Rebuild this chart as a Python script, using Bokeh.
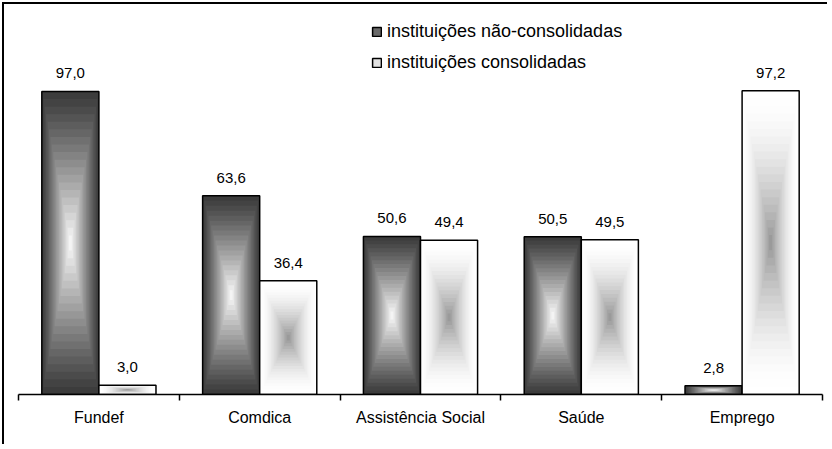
from bokeh.plotting import figure
from bokeh.models import (ColumnDataSource, Range1d, LinearAxis, FixedTicker,
                          Legend, LegendItem)
from bokeh.core.properties import value
from bokeh.embed import file_html
from bokeh.resources import INLINE

# ---- data ----
categories = ["Fundef", "Comdica", "Assistência Social", "Saúde", "Emprego"]
nao_consolidadas = [97.0, 63.6, 50.6, 50.5, 2.8]
consolidadas = [3.0, 36.4, 49.4, 49.5, 97.2]
series_names = ["instituições não-consolidadas", "instituições consolidadas"]

FONT = "Liberation Sans"
BAR_W = 0.355
N_LAYERS = 20

def fmt(v):
    return f"{v:.1f}".replace(".", ",")

def gray(g):
    g = int(max(0, min(255, round(g))))
    return "#%02x%02x%02x" % (g, g, g)

def layers(vals, side, color_fn):
    L, R, B, T, C = [], [], [], [], []
    for k in range(N_LAYERS):
        t = k / N_LAYERS
        for i, v in enumerate(vals):
            c = i + 0.5
            left = c - BAR_W if side < 0 else c
            right = c if side < 0 else c + BAR_W
            hw = (right - left) / 2.0
            hh = v / 2.0
            L.append(left + t * hw)
            R.append(right - t * hw)
            B.append(0 + t * hh)
            T.append(v - t * hh)
            C.append(color_fn(t))
    return dict(left=L, right=R, bottom=B, top=T, color=C)

dark_fn = lambda t: gray(60 + 195 * (t ** 1.1))
light_fn = lambda t: gray(255 - 110 * (t ** 1.7))

p = figure(width=825, height=442, output_backend="svg", toolbar_location=None,
           x_range=Range1d(0, 5), y_range=Range1d(0, 122.6),
           x_axis_type=None, y_axis_location=None,
           min_border_left=14, min_border_right=7, min_border_top=7,
           min_border_bottom=52,
           styles={"border-left": "2px solid black", "border-top": "2px solid black",
                   "margin-left": "2px", "margin-top": "2px"})
p.outline_line_color = None
p.xgrid.visible = False
p.ygrid.visible = False
p.background_fill_color = "white"
p.border_fill_color = "white"

legend_renderers = []
legend_colors = ["#6a6a6a", "#e2e2e2"]
for si, (side, vals, fn) in enumerate([(-1, nao_consolidadas, dark_fn),
                                       (1, consolidadas, light_fn)]):
    src = ColumnDataSource(layers(vals, side, fn))
    p.quad(left="left", right="right", bottom="bottom", top="top",
           fill_color="color", line_color=None, source=src)
    xs_l = [i + 0.5 - BAR_W if side < 0 else i + 0.5 for i in range(len(vals))]
    xs_r = [i + 0.5 if side < 0 else i + 0.5 + BAR_W for i in range(len(vals))]
    osrc = ColumnDataSource(dict(left=xs_l, right=xs_r, top=vals, bottom=[0] * len(vals)))
    p.quad(left="left", right="right", bottom="bottom", top="top",
           fill_color=None, line_color="black", line_width=1.5, source=osrc)
    lr = p.quad(left="left", right="right", bottom="bottom", top="top",
                fill_color=legend_colors[si], line_color="black", line_width=1.5,
                source=osrc, visible=False)
    legend_renderers.append(lr)

    lsrc = ColumnDataSource(dict(
        x=[(l + r) / 2 for l, r in zip(xs_l, xs_r)], y=vals,
        text=[fmt(v) for v in vals]))
    p.text(x="x", y="y", text="text", source=lsrc, text_align="center",
           text_baseline="alphabetic", y_offset=-18,
           text_font=value(FONT), text_font_size="15px", text_color="black")

ax = LinearAxis(ticker=FixedTicker(ticks=[i + 0.5 for i in range(len(categories))],
                                   minor_ticks=list(range(len(categories) + 1))))
ax.major_label_overrides = {i + 0.5: c for i, c in enumerate(categories)}
ax.major_tick_out = 0
ax.major_tick_in = 0
ax.minor_tick_out = 6
ax.minor_tick_in = 0
ax.minor_tick_line_color = "black"
ax.minor_tick_line_width = 1.5
ax.axis_line_color = "black"
ax.axis_line_width = 1.5
ax.major_label_standoff = 8
ax.major_label_text_font = FONT
ax.major_label_text_font_size = "16px"
ax.major_label_text_color = "black"
p.add_layout(ax, "below")

legend = Legend(items=[
    LegendItem(label=series_names[0], renderers=[legend_renderers[0]]),
    LegendItem(label=series_names[1], renderers=[legend_renderers[1]]),
], location=(353, 321), orientation="vertical",
    glyph_width=11, glyph_height=11, label_standoff=5, spacing=10,
    padding=0, margin=0, border_line_color=None, background_fill_alpha=0,
    label_text_font=FONT, label_text_font_size="18px", label_height=20,
    label_text_color="black")
p.add_layout(legend, "center")

open("out.html", "w").write(file_html(p, INLINE))
